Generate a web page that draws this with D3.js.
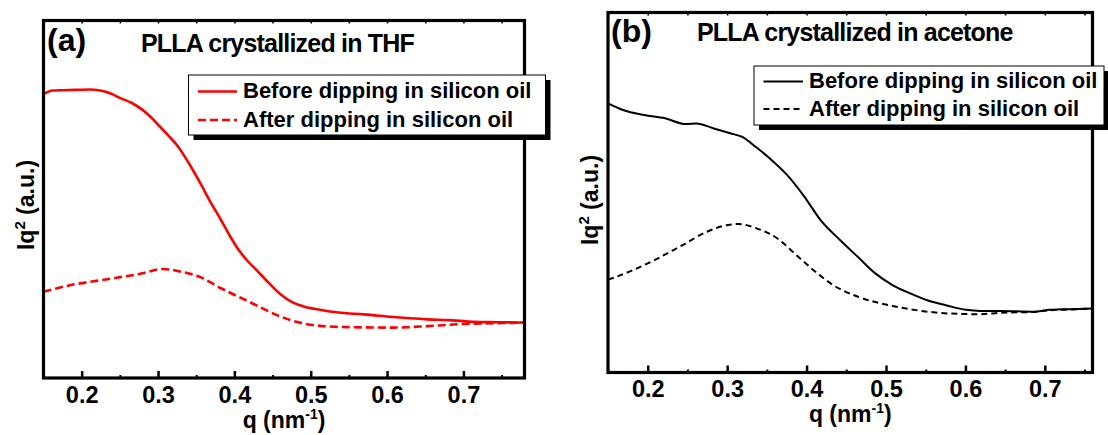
<!DOCTYPE html>
<html><head><meta charset="utf-8">
<script src="https://cdn.jsdelivr.net/npm/d3@7"></script>
<style>
body{margin:0;background:#fff;}
svg{display:block;font-family:"Liberation Sans",Arial,sans-serif;font-weight:bold;}
</style></head>
<body><svg id="c" width="1108" height="435"></svg>
<script>
// ---- data (q in nm^-1, Iq^2 in arbitrary units) ----
const qTicks = [0.2, 0.3, 0.4, 0.5, 0.6, 0.7];
const qMinorTicks = [0.15, 0.25, 0.35, 0.45, 0.55, 0.65, 0.75];
const legendLabels = ["Before dipping in silicon oil", "After dipping in silicon oil"];

const thfBefore = [[0.150,79.4],[0.162,80.4],[0.175,80.5],[0.191,80.6],[0.211,80.7],[0.224,80.4],[0.238,79.6],[0.2515,78.2],[0.265,77.0],[0.2797,75.0],[0.2915,72.8],[0.3026,70.3],[0.3145,67.6],[0.3264,64.7],[0.340,60.2],[0.3543,54.9],[0.368,49.5],[0.3825,44.2],[0.394,39.8],[0.4057,35.8],[0.417,32.8],[0.429,30.2],[0.445,26.6],[0.4616,23.2],[0.475,21.3],[0.4896,20.1],[0.512,19.1],[0.5362,18.3],[0.570,17.8],[0.6065,17.1],[0.630,16.7],[0.653,16.4],[0.680,16.2],[0.7138,15.7],[0.745,15.6],[0.779,15.5]];
const thfAfter = [[0.150,24.1],[0.186,26.0],[0.233,27.6],[0.2797,29.3],[0.305,30.5],[0.331,29.7],[0.3543,28.3],[0.3825,25.1],[0.4197,21.3],[0.4616,17.1],[0.4896,15.3],[0.5362,14.3],[0.6065,14.1],[0.653,14.5],[0.6995,15.1],[0.740,15.3],[0.779,15.5]];

const acetoneBefore = [[0.1513,74.6],[0.1689,72.9],[0.1953,71.5],[0.2218,70.6],[0.2482,69.0],[0.2613,69.2],[0.2832,67.8],[0.3049,66.4],[0.3183,65.5],[0.3358,62.7],[0.3535,59.5],[0.3754,54.9],[0.3974,48.8],[0.4174,42.4],[0.4421,36.8],[0.4641,32.2],[0.4861,27.6],[0.5082,24.3],[0.5302,22.0],[0.5567,19.7],[0.5743,18.75],[0.6007,17.4],[0.6183,17.1],[0.6448,17.1],[0.6844,16.9],[0.7065,17.4],[0.7329,17.6],[0.7593,17.8]];
const acetoneAfter = [[0.150,25.8],[0.158,26.4],[0.1999,30.3],[0.2439,35.4],[0.2746,39.1],[0.3011,41.0],[0.3144,41.25],[0.3363,40.1],[0.3628,37.3],[0.3892,32.2],[0.4112,28.0],[0.4333,24.3],[0.4641,21.1],[0.5082,18.5],[0.5522,16.9],[0.5962,16.25],[0.6183,16.2],[0.6448,16.6],[0.6844,16.8],[0.7065,17.3],[0.7329,17.5],[0.7593,17.75]];

const panels = [
  {tag:"(a)", title:"PLLA crystallized in THF", color:"#ff0000", before:thfBefore, after:thfAfter,
   qDomain:[0.15,0.78], left:43.5, right:524.5, top:20.5, bottom:378,
   tagX:47, tagY:51, titleX:141, titleY:52, ylabX:34, ylabY:205, tickLabY:403, xTitleY:428,
   leg:{x:188.5, y:75, w:357, h:60, sx0:198, sx1:237, tx:243, r1:91.5, r2:120, b1:98, b2:127}, lw:2.6, dash:"8,4"},
  {tag:"(b)", title:"PLLA crystallized in acetone", color:"#000000", before:acetoneBefore, after:acetoneAfter,
   qDomain:[0.15,0.76], left:608, right:1092.5, top:12.5, bottom:372.5,
   tagX:611, tagY:42, titleX:697, titleY:41, ylabX:598, ylabY:200, tickLabY:397, xTitleY:422,
   leg:{x:754, y:66, w:350, h:59, sx0:763.5, sx1:803, tx:809, r1:81.5, r2:109, b1:88, b2:116}, lw:2.0, dash:"6,4"}
];

const svg = d3.select("#c");

panels.forEach(p => {
  const x = d3.scaleLinear().domain(p.qDomain).range([p.left, p.right]);
  const y = d3.scaleLinear().domain([0, 100]).range([p.bottom, p.top]);
  const g = svg.append("g");

  // curves
  const line = d3.line().x(d => x(d[0])).y(d => y(d[1])).curve(d3.curveMonotoneX);
  g.append("path").datum(p.after).attr("d", line).attr("fill","none")
    .attr("stroke", p.color).attr("stroke-width", p.lw).attr("stroke-dasharray", p.dash);
  g.append("path").datum(p.before).attr("d", line).attr("fill","none")
    .attr("stroke", p.color).attr("stroke-width", p.lw);

  // bottom axis (ticks inward)
  const axB = g.append("g").attr("transform", `translate(0,${p.bottom})`)
    .call(d3.axisBottom(x).tickValues(qTicks).tickSizeInner(-7).tickSizeOuter(0).tickFormat(d3.format(".1f")));
  axB.select(".domain").remove();
  axB.selectAll(".tick line").attr("stroke","#000").attr("stroke-width",2.5);
  axB.selectAll(".tick text").attr("y", p.tickLabY - p.bottom).attr("dy", 0)
    .attr("font-size", 23.5).attr("font-family","Liberation Sans, Arial, sans-serif").attr("font-weight","bold").attr("fill","#000");
  const axBm = g.append("g").attr("transform", `translate(0,${p.bottom})`)
    .call(d3.axisBottom(x).tickValues(qMinorTicks.filter(v => v>=p.qDomain[0] && v<=p.qDomain[1])).tickSizeInner(-3).tickSizeOuter(0).tickFormat(""));
  axBm.select(".domain").remove();
  axBm.selectAll(".tick line").attr("stroke","#000").attr("stroke-width",2);

  // top axis ticks
  const axT = g.append("g").attr("transform", `translate(0,${p.top})`)
    .call(d3.axisTop(x).tickValues(qTicks.concat(qMinorTicks).filter(v => v>=p.qDomain[0] && v<=p.qDomain[1])).tickSizeInner(-3).tickSizeOuter(0).tickFormat(""));
  axT.select(".domain").remove();
  axT.selectAll(".tick line").attr("stroke","#000").attr("stroke-width",1.5);

  // frame
  g.append("rect").attr("x", p.left).attr("y", p.top)
    .attr("width", p.right - p.left).attr("height", p.bottom - p.top)
    .attr("fill","none").attr("stroke","#000").attr("stroke-width",3.2);

  // tag & title
  g.append("text").attr("x", p.tagX).attr("y", p.tagY).attr("font-size", 32).text(p.tag);
  g.append("text").attr("x", p.titleX).attr("y", p.titleY).attr("font-size", 25)
    .attr("letter-spacing", -0.8).text(p.title);

  // y label
  const yl = g.append("text").attr("transform", `translate(${p.ylabX},${p.ylabY}) rotate(-90)`)
    .attr("text-anchor","middle").attr("font-size", 23);
  yl.append("tspan").text("Iq");
  yl.append("tspan").attr("font-size", 15).attr("dy", -9).text("2");
  yl.append("tspan").attr("dy", 9).text(" (a.u.)");

  // x label
  const xl = g.append("text").attr("x", (p.left + p.right)/2).attr("y", p.xTitleY)
    .attr("text-anchor","middle").attr("font-size", 23);
  xl.append("tspan").text("q (nm");
  xl.append("tspan").attr("font-size", 14).attr("dy", -9).text("-1");
  xl.append("tspan").attr("dy", 9).text(")");

  // legend
  const L = p.leg;
  g.append("rect").attr("x", L.x + 5).attr("y", L.y + 5).attr("width", L.w).attr("height", L.h).attr("fill","#000");
  g.append("rect").attr("x", L.x).attr("y", L.y).attr("width", L.w).attr("height", L.h)
    .attr("fill","#fff").attr("stroke","#000").attr("stroke-width",1);
  [[L.r1, L.b1, null], [L.r2, L.b2, p.dash]].forEach((r, i) => {
    const ln = g.append("line").attr("x1", L.sx0).attr("x2", L.sx1).attr("y1", r[0]).attr("y2", r[0])
      .attr("stroke", p.color).attr("stroke-width", p.lw);
    if (r[2]) ln.attr("stroke-dasharray", r[2]);
    g.append("text").attr("x", L.tx).attr("y", r[1]).attr("font-size", 22).text(legendLabels[i]);
  });
});
</script></body></html>
